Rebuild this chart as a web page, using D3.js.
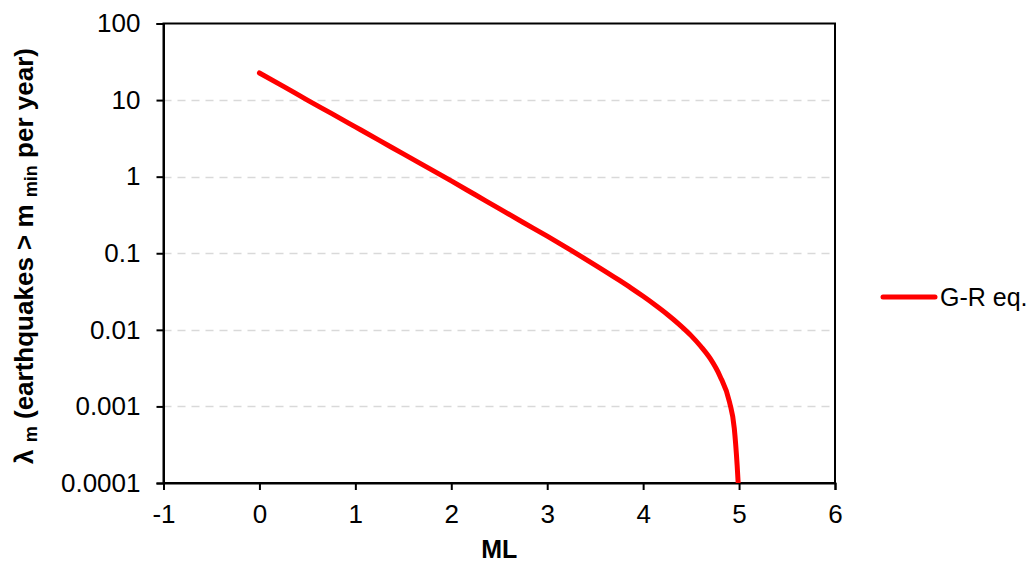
<!doctype html>
<html lang="en">
<head>
<meta charset="utf-8">
<title>G-R recurrence</title>
<script src="https://cdn.jsdelivr.net/npm/d3@7"></script>
<style>
  body { margin: 0; background: #fff; }
  text { font-family: "Liberation Sans", Arial, sans-serif; }
</style>
</head>
<body>
<script>

// Data
var magnitudes = [0, 0.25, 0.5, 0.75, 1, 1.25, 1.5, 1.75, 2, 2.25, 2.5, 2.75, 3, 3.25, 3.5, 3.75, 3.875, 4, 4.125, 4.25, 4.375, 4.5, 4.6, 4.7, 4.8, 4.9, 4.95, 4.98, 4.995];
var rates = [22.6, 15.1, 10.0, 6.7, 4.47, 2.98, 1.98, 1.32, 0.88, 0.58, 0.382, 0.252, 0.167, 0.109, 0.0702, 0.0445, 0.0351, 0.0274, 0.0211, 0.0160, 0.0118, 0.0084, 0.0061, 0.0042, 0.0025, 0.00114, 0.00052, 0.00017, 0.00008];
var xTicks = [-1, 0, 1, 2, 3, 4, 5, 6];
var yTicks = [0.0001, 0.001, 0.01, 0.1, 1, 10, 100];
var yTickLabels = ["0.0001", "0.001", "0.01", "0.1", "1", "10", "100"];
var seriesName = "G-R eq.";

var dataset = magnitudes.map(function(m, i) { return {m: m, r: rates[i]}; });

// Graphics
var outerWidth = 1035, outerHeight = 565;
var plot = {left: 163.5, top: 23.5, right: 835, bottom: 483};

var svg = d3.select("body").append("svg")
  .attr("width", outerWidth)
  .attr("height", outerHeight);

var xScale = d3.scaleLinear()
  .domain([-1, 6])
  .range([plot.left, plot.right]);

var yScale = d3.scaleLog()
  .domain([0.0001, 100])
  .range([plot.bottom, plot.top]);

// gridlines
svg.append("g")
  .selectAll("line")
  .data(yTicks.filter(function(d) { return d > 0.0001 && d < 100; }))
  .enter().append("line")
  .attr("x1", plot.left)
  .attr("x2", plot.right)
  .attr("y1", function(d) { return Math.round(yScale(d)) + 0.5; })
  .attr("y2", function(d) { return Math.round(yScale(d)) + 0.5; })
  .attr("stroke", "#d9d9d9")
  .attr("stroke-width", 1.5)
  .attr("stroke-dasharray", "8,6");

// frame
svg.append("rect")
  .attr("x", plot.left)
  .attr("y", plot.top)
  .attr("width", plot.right - plot.left)
  .attr("height", plot.bottom - plot.top)
  .attr("fill", "none")
  .attr("stroke", "#000")
  .attr("stroke-width", 2);

// axes
var xAxis = d3.axisBottom(xScale)
  .tickValues(xTicks)
  .tickSize(7)
  .tickPadding(15)
  .tickFormat(function(d) { return String(d); });

var yAxis = d3.axisLeft(yScale)
  .tickValues(yTicks)
  .tickSize(7)
  .tickPadding(16)
  .tickFormat(function(d, i) { return yTickLabels[i]; });

var gx = svg.append("g")
  .attr("transform", "translate(0," + plot.bottom + ")")
  .call(xAxis);

var gy = svg.append("g")
  .attr("transform", "translate(" + plot.left + ",0)")
  .call(yAxis);

[gx, gy].forEach(function(g) {
  g.select(".domain").attr("stroke", "#000").attr("stroke-width", 2);
  g.selectAll(".tick line").attr("stroke", "#000").attr("stroke-width", 2);
  g.selectAll(".tick text")
    .attr("fill", "#000")
    .attr("font-size", "26px")
    .attr("font-family", "Liberation Sans, Arial, sans-serif");
});

// clip
svg.append("clipPath").attr("id", "clip")
  .append("rect")
  .attr("x", plot.left)
  .attr("y", plot.top)
  .attr("width", plot.right - plot.left)
  .attr("height", plot.bottom - plot.top);

var line = d3.line()
  .x(function(d) { return xScale(d.m); })
  .y(function(d) { return yScale(d.r); })
  .curve(d3.curveMonotoneX);

svg.append("path")
  .datum(dataset)
  .attr("clip-path", "url(#clip)")
  .attr("d", line)
  .attr("fill", "none")
  .attr("stroke", "#ff0000")
  .attr("stroke-width", 5)
  .attr("stroke-linecap", "round")
  .attr("stroke-linejoin", "round");

// axis titles
svg.append("text")
  .attr("x", (plot.left + plot.right) / 2)
  .attr("y", 558)
  .attr("text-anchor", "middle")
  .attr("font-size", "25px")
  .attr("font-weight", "bold")
  .text("ML");

var yTitle = svg.append("text")
  .attr("transform", "translate(33,256) rotate(-90)")
  .attr("text-anchor", "middle")
  .attr("font-size", "26px")
  .attr("font-weight", "bold");
yTitle.append("tspan").text("λ ");
yTitle.append("tspan").attr("font-size", "18px").attr("dy", 4).text("m");
yTitle.append("tspan").attr("dy", -4).text(" (earthquakes > m ");
yTitle.append("tspan").attr("font-size", "18px").attr("dy", 4).text("min");
yTitle.append("tspan").attr("dy", -4).text(" per year)");

// legend
var legend = svg.append("g").attr("transform", "translate(883,297)");
legend.append("line")
  .attr("x1", 0).attr("x2", 52)
  .attr("y1", 0).attr("y2", 0)
  .attr("stroke", "#ff0000")
  .attr("stroke-width", 5)
  .attr("stroke-linecap", "round");
legend.append("text")
  .attr("x", 57)
  .attr("y", 9)
  .attr("font-size", "25px")
  .text(seriesName);

</script>
</body>
</html>
